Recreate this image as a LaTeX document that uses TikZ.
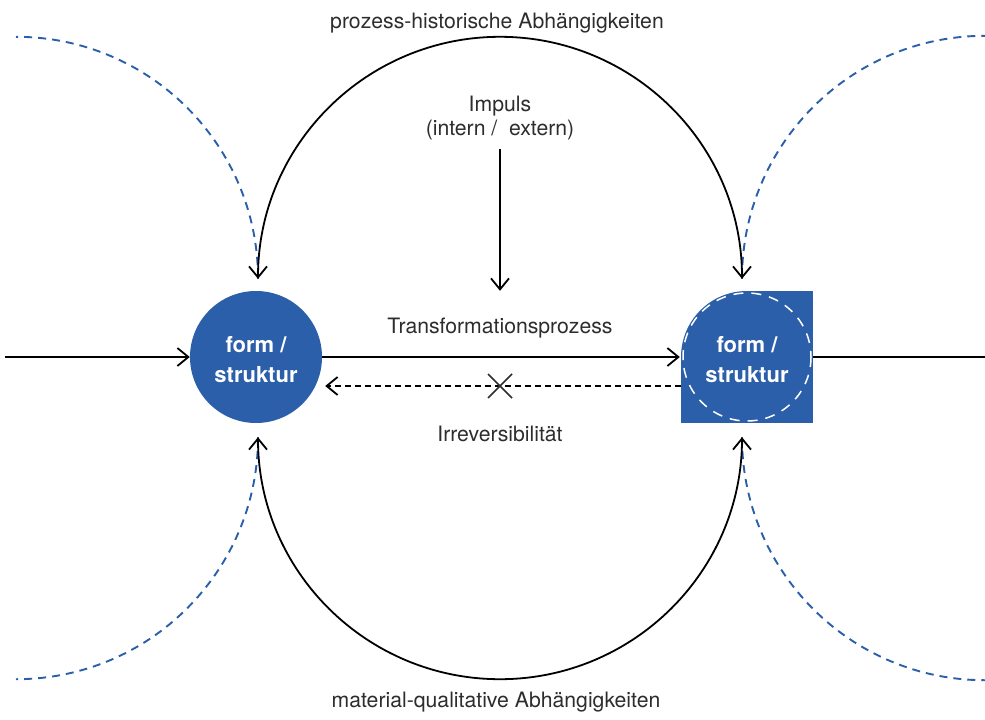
\documentclass[tikz,border=0pt]{standalone}
\usepackage{fontspec}
\setmainfont{TeX Gyre Heros}
\usetikzlibrary{arrows.meta,backgrounds}
\definecolor{fsblue}{RGB}{43,95,170}
\definecolor{txt}{RGB}{45,45,45}
\pgfdeclarelayer{paper}
\pgfsetlayers{paper,background,main}
\begin{document}
\begin{tikzpicture}[x=1pt,y=-1pt,
  tip/.style={-{Straight Barb[length=11pt,width=18pt]}},
  tips/.style={{Straight Barb[length=11pt,width=18pt]}-{Straight Barb[length=11pt,width=18pt]}},
  conn/.style={line width=1.8pt,black},
  lbl/.style={font=\fontsize{21.2}{26}\selectfont,text=txt,inner sep=0pt,anchor=base},
  blob/.style={circle,fill=fsblue,minimum size=132pt,inner sep=0pt,text=white,
    align=center,font=\bfseries\fontsize{22}{30}\selectfont},
  ghost/.style={fsblue,line width=1.9pt,dash pattern=on 8pt off 6pt},
]
\begin{pgfonlayer}{paper}
  \fill[white] (0,0) rectangle (985,720);
\end{pgfonlayer}
\useasboundingbox (0,0) rectangle (985,720);

% the two states
\node[blob] (l) at (256,357) {\rule{0pt}{21pt}form /\\struktur};
\node[blob] (r) at (747,357) {\rule{0pt}{21pt}form /\\struktur};
\begin{scope}[on background layer]
  \fill[fsblue] (r.north) rectangle (r.east |- r.south);
  \fill[fsblue] (r.west) rectangle (r.east |- r.south);
\end{scope}
\draw[white,line width=1.5pt,dash pattern=on 10pt off 8pt] (r) circle[radius=64];

% end points of the arcs next to the nodes
\coordinate (lt) at ([xshift=2pt,yshift=12pt]l.north);
\coordinate (rt) at ([xshift=-5pt,yshift=12pt]r.north);
\coordinate (lb) at ([xshift=2pt,yshift=-14pt]l.south);
\coordinate (rb) at ([xshift=-5pt,yshift=-14pt]r.south);

% outer dependencies
\draw[ghost] (lt) arc[start angle=0,end angle=-90,radius=242];
\draw[ghost] (rt) arc[start angle=180,end angle=270,radius=243];
\draw[ghost] (lb) arc[start angle=0,end angle=90,radius=242];
\draw[ghost] (rb) arc[start angle=180,end angle=90,radius=243];

% dependency arcs
\draw[conn,tips] (rt) arc[start angle=0,end angle=-180,radius=242];
\draw[conn,tips] (rb) arc[start angle=0,end angle=180,radius=242];

% labels
\node[lbl] (top) at (497,28) {prozess-historische Abhängigkeiten};
\node[lbl] (bottom) at (496,707) {material-qualitative Abhängigkeiten};
\node[lbl] (imp) at (500,111) {Impuls};
\node[lbl] (impsub) at (500,135) {(intern /~~extern)};
\node[lbl] (trans) at (500,333) {Transformationsprozess};
\node[lbl] (irr) at (500,441) {Irreversibilität};

% impulse
\draw[conn,tip,shorten <=9pt] (impsub.south) -- (impsub.south |- r.north);

% horizontal flow
\coordinate (in) at (5,357);
\coordinate (out) at (985,357);
\draw[conn,tip] (in) -- (l.west);
\draw[conn,tip,shorten >=1pt] (l.east) -- (r.west);
\draw[conn] (r.east) -- (out);

% blocked return path
\coordinate (retS) at ([yshift=-29pt]r.west);
\coordinate (retE) at ([xshift=3pt,yshift=-29pt]l.east);
\draw[conn,tip,dash pattern=on 6pt off 4pt] (retS) -- (retE);
\coordinate (x) at (500,386);
\draw[line width=1.6pt,txt] ([shift={(-12,-12)}]x) -- ([shift={(12,12)}]x);
\draw[line width=1.6pt,txt] ([shift={(-12,12)}]x) -- ([shift={(12,-12)}]x);
\end{tikzpicture}
\end{document}
